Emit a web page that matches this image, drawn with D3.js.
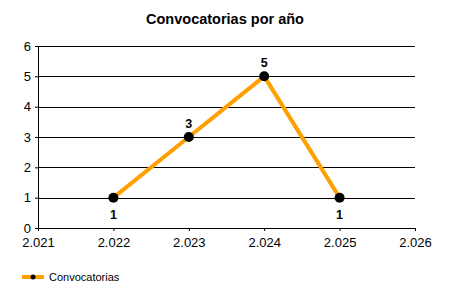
<!DOCTYPE html>
<html>
<head>
<meta charset="utf-8">
<script src="https://d3js.org/d3.v7.min.js"></script>
<style>
  body { margin: 0; background: #fff; }
  text { font-family: "Liberation Sans", Arial, sans-serif; }
</style>
</head>
<body>
<div id="chart"></div>
<script>
const years = [2022, 2023, 2024, 2025];
const counts = [1, 3, 5, 1];
const labelPos = ["below", "above", "above", "below"];
const xTicks = [2021, 2022, 2023, 2024, 2025, 2026];
const yTicks = [0, 1, 2, 3, 4, 5, 6];
const seriesName = "Convocatorias";

const data = years.map((y, i) => ({ year: y, count: counts[i], pos: labelPos[i] }));

const W = 450, H = 300;
const margin = { top: 46, right: 35, bottom: 72, left: 38 };
const width = W - margin.left - margin.right;
const height = H - margin.top - margin.bottom;

const svg = d3.select("#chart").append("svg")
    .attr("width", W)
    .attr("height", H);

// Title
svg.append("text")
    .attr("x", 225)
    .attr("y", 24)
    .attr("text-anchor", "middle")
    .style("font-size", "14.5px")
    .style("font-weight", "bold")
    .text("Convocatorias por año");

const g = svg.append("g")
    .attr("transform", `translate(${margin.left},${margin.top})`);

const x = d3.scaleLinear().domain([2021, 2026]).range([0, width]);
const y = d3.scaleLinear().domain([0, 6]).range([height, 0]);

// Gridlines
g.selectAll(".grid")
    .data(yTicks.filter(d => d > 0))
    .enter().append("line")
    .attr("x1", 0).attr("x2", width)
    .attr("y1", d => Math.round(y(d)) + 0.5)
    .attr("y2", d => Math.round(y(d)) + 0.5)
    .attr("stroke", "#000")
    .attr("stroke-width", 1);

// Axes
const fmt = d => d3.format(".3f")(d / 1000);
const yAxis = g.append("g")
    .call(d3.axisLeft(y).tickValues(yTicks).tickSize(3).tickPadding(4).tickFormat(d3.format("d")));
const xAxis = g.append("g")
    .attr("transform", `translate(0,${height})`)
    .call(d3.axisBottom(x).tickValues(xTicks).tickSize(3).tickPadding(7).tickFormat(fmt));

[xAxis, yAxis].forEach(a => {
    a.select(".domain").attr("stroke", "#000");
    a.selectAll(".tick line").attr("stroke", "#000");
    a.selectAll("text")
        .style("font-size", "13px")
        .style("font-family", "'Liberation Sans', Arial, sans-serif")
        .attr("fill", "#000");
});

// Line
g.append("path")
    .datum(data)
    .attr("fill", "none")
    .attr("stroke", "#FFA000")
    .attr("stroke-width", 4)
    .attr("d", d3.line().x(d => x(d.year)).y(d => y(d.count)));

// Markers
g.selectAll(".pt")
    .data(data)
    .enter().append("circle")
    .attr("cx", d => x(d.year))
    .attr("cy", d => y(d.count))
    .attr("r", 5)
    .attr("fill", "#000");

// Value labels
g.selectAll(".lbl")
    .data(data)
    .enter().append("text")
    .attr("x", d => x(d.year))
    .attr("y", d => d.pos === "above" ? y(d.count) - 9 : y(d.count) + 21)
    .attr("text-anchor", "middle")
    .style("font-size", "12.5px")
    .style("font-weight", "bold")
    .text(d => d.count);

// Legend
const lg = svg.append("g").attr("transform", "translate(22,277)");
lg.append("line")
    .attr("x1", 0).attr("x2", 22)
    .attr("y1", 0).attr("y2", 0)
    .attr("stroke", "#FFA000")
    .attr("stroke-width", 4);
lg.append("circle").attr("cx", 11).attr("cy", 0).attr("r", 2.5).attr("fill", "#000");
lg.append("text")
    .attr("x", 27)
    .attr("y", 4)
    .style("font-size", "11px")
    .text(seriesName);
</script>
</body>
</html>
